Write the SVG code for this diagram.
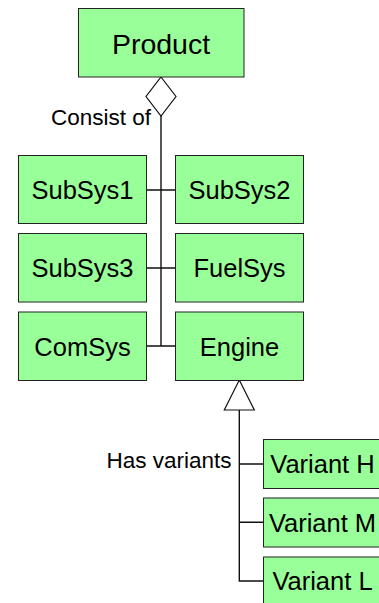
<svg xmlns="http://www.w3.org/2000/svg" width="379" height="603" viewBox="0 0 379 603">
  <style>
    .box { fill: #99ff99; stroke: #222; stroke-width: 1; }
    .name { font-family: "Liberation Sans", Arial, sans-serif; font-size: 25.5px; fill: #000; text-anchor: middle; }
    .label { font-family: "Liberation Sans", Arial, sans-serif; font-size: 22.5px; fill: #000; }
    .wire { fill: none; stroke: #111; stroke-width: 1.4; }
    .head { fill: #fff; stroke: #111; stroke-width: 1.2; }
  </style>
  <rect width="379" height="603" fill="#fff"/>

  <!-- connectors -->
  <g id="connectors">
    <!-- aggregation: Product consists of subsystems -->
    <path class="wire" d="M161 116 V346"/>
    <path class="wire" d="M146.7 190 H175.3 M146.7 268 H175.3 M146.7 346 H175.3"/>
    <polygon class="head" points="161,77 176,96.5 161,116 146,96.5"/>
    <text class="label" x="151" y="125" text-anchor="end">Consist of</text>
    <!-- generalization: Engine has variants -->
    <path class="wire" d="M239.3 410 V581 H263.3 M239.3 464 H263.3 M239.3 522.3 H263.3"/>
    <polygon class="head" points="239.3,380 254.3,410 224.3,410"/>
    <text class="label" x="231.5" y="468" text-anchor="end">Has variants</text>
  </g>

  <g id="product">
    <rect class="box" x="78.5" y="8.5" width="165.5" height="68.5"/>
    <text class="name" x="161" y="53.5" style="font-size:28.5px">Product</text>
  </g>

  <g id="subsys1">
    <rect class="box" x="18.5" y="155.5" width="128" height="68"/>
    <text class="name" x="82.5" y="199">SubSys1</text>
  </g>
  <g id="subsys2">
    <rect class="box" x="175.5" y="155.5" width="128" height="68"/>
    <text class="name" x="239.5" y="199">SubSys2</text>
  </g>
  <g id="subsys3">
    <rect class="box" x="18.5" y="233.5" width="128" height="68.5"/>
    <text class="name" x="82.5" y="277">SubSys3</text>
  </g>
  <g id="fuelsys">
    <rect class="box" x="175.5" y="233.5" width="128" height="68.5"/>
    <text class="name" x="239.5" y="277">FuelSys</text>
  </g>
  <g id="comsys">
    <rect class="box" x="18.5" y="312" width="128" height="68.5"/>
    <text class="name" x="82.5" y="355.5">ComSys</text>
  </g>
  <g id="engine">
    <rect class="box" x="175.5" y="312" width="128" height="68.5"/>
    <text class="name" x="239.5" y="355.5">Engine</text>
  </g>

  <g id="variant-h">
    <rect class="box" x="263.5" y="439.5" width="118" height="49"/>
    <text class="name" x="322.5" y="473">Variant H</text>
  </g>
  <g id="variant-m">
    <rect class="box" x="263.5" y="498" width="118" height="49"/>
    <text class="name" x="322.5" y="531.5">Variant M</text>
  </g>
  <g id="variant-l">
    <rect class="box" x="263.5" y="557" width="118" height="49"/>
    <text class="name" x="322.5" y="590">Variant L</text>
  </g>
</svg>
